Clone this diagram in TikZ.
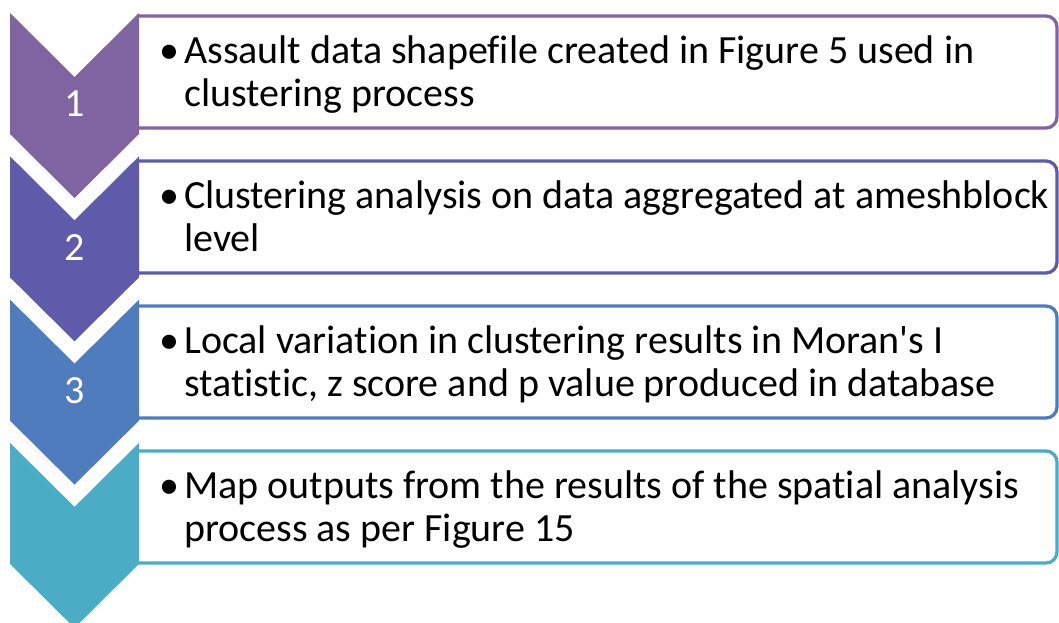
\documentclass[tikz,border=0pt]{standalone}
\usepackage{fontspec}
\setmainfont{Carlito}[Ligatures={NoCommon}]
\usetikzlibrary{positioning}
\definecolor{stepA}{HTML}{8064A2}
\definecolor{stepB}{HTML}{5F5AAA}
\definecolor{stepC}{HTML}{4F7CBD}
\definecolor{stepD}{HTML}{4BACC6}
\tikzset{
  chevron/.style={fill=#1,draw=none},
  textbox/.style={draw=#1,line width=3.3pt,fill=white,rounded corners=11pt},
  numlabel/.style={text=white,inner sep=0pt,font=\fontsize{40}{44}\selectfont},
  itemtext/.style={anchor=base west,inner sep=0pt,font=\fontsize{40}{43}\selectfont}
}

\begin{document}
\begin{tikzpicture}[x=1pt,y=-1pt]
    \useasboundingbox (0,0) rectangle (1059,622);
    % one row per step: colour, number, two lines of text
    \foreach \i/\col/\num/\lineA/\lineB in {
        1/stepA/1/{Assault data shapefile created in Figure 5 used in}/{clustering process},
        2/stepB/2/{Clustering analysis on data aggregated at ameshblock}/{level},
        3/stepC/3/{Local variation in clustering results in Moran\textquotesingle s I}/{statistic, z score and p value produced in database},
        4/stepD/{}/{Map outputs from the results of the spatial analysis}/{process as per Figure 15}}
    {
        \pgfmathsetmacro\ctop{13+143.3*(\i-1)}
        \pgfmathsetmacro\btop{16+145*(\i-1)}
        % text box, rounded on the right
        \draw[textbox=\col] (137,\btop) -- (1057,\btop) -- (1057,\btop+112) -- (137,\btop+112);
        % chevron pointing down
        \path[chevron=\col] (10,\ctop) -- (74.5,\ctop+64) -- (139,\ctop) -- (139,\ctop+121)
            -- (74.5,\ctop+185) -- (10,\ctop+121) -- cycle;
        \node[numlabel] (num\i) at (74.5,\ctop+91) {\num};
        \node[itemtext] (dot\i) at (159,\btop+47) {\textbullet};
        \node[itemtext] (item\i) at (184,\btop+47) {\lineA};
        \node[itemtext] (item\i b) at ([yshift=-43pt]item\i.base west) {\lineB};
    }
\end{tikzpicture}
\end{document}
